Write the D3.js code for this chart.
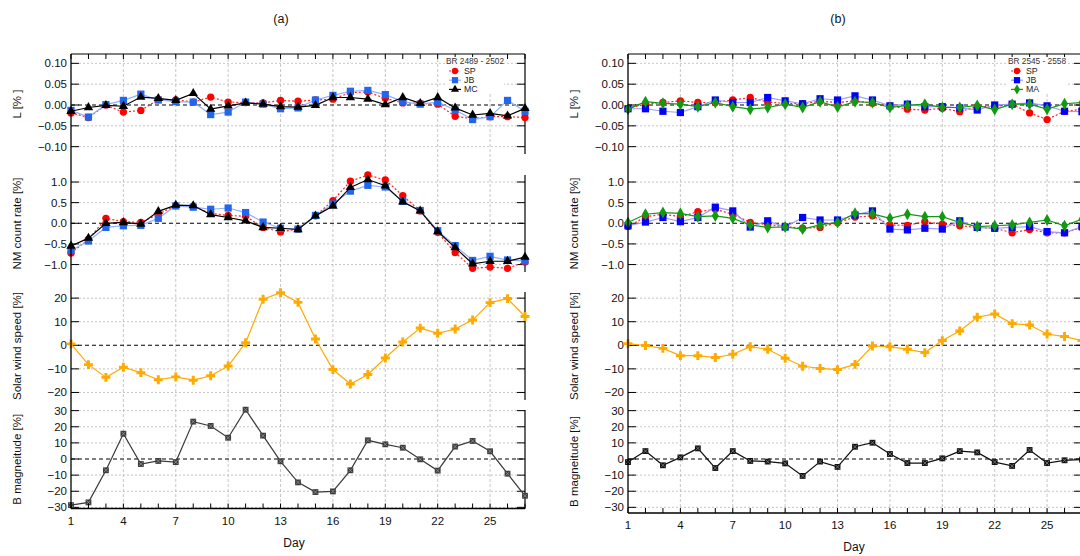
<!DOCTYPE html>
<html>
<head>
<meta charset="utf-8">
<script src="https://cdn.jsdelivr.net/npm/d3@7"></script>
<style>
  body { margin: 0; background: #fff; }
  svg { display: block; font-family: "Liberation Sans", Arial, sans-serif; }
</style>
</head>
<body>
<svg id="chart" width="1080" height="556"></svg>
<script>
// days along the x axis, labelled every third day
const days = [1,2,3,4,5,6,7,8,9,10,11,12,13,14,15,16,17,18,19,20,21,22,23,24,25,26,27];
const dayTicks = [1,4,7,10,13,16,19,22,25];

// y tick values per row
const ticksL = [-0.10, -0.05, 0.00, 0.05, 0.10];
const ticksNM = [-1.0, -0.5, 0.0, 0.5, 1.0];
const ticksSW = [-20, -10, 0, 10, 20];
const ticksB = [-30, -20, -10, 0, 10, 20, 30];

// (a) BR 2489 - 2502
const aL_SP = [-0.019,-0.030,0.000,-0.017,-0.013,0.013,0.012,0.007,0.019,0.007,0.006,0.005,0.011,0.009,0.012,0.014,0.030,0.031,0.016,0.005,0.004,0.002,-0.027,-0.033,-0.028,-0.028,-0.030];
const aL_JB = [-0.013,-0.029,0.001,0.011,0.026,0.012,0.008,0.007,-0.023,-0.017,0.007,0.002,-0.009,-0.007,0.012,0.023,0.033,0.035,0.025,0.008,0.002,0.007,-0.012,-0.035,-0.028,0.011,-0.015];
const aL_MC = [-0.015,-0.006,-0.001,-0.003,0.019,0.016,0.011,0.028,-0.010,-0.002,0.005,0.002,-0.004,-0.005,-0.001,0.018,0.018,0.014,0.001,0.018,0.004,0.018,-0.007,-0.024,-0.020,-0.026,-0.008];
const aNM_SP = [-0.72,-0.39,0.12,0.04,0.02,0.22,0.43,0.41,0.24,0.19,0.17,-0.10,-0.21,-0.14,0.18,0.55,1.02,1.17,1.05,0.67,0.30,-0.22,-0.71,-1.09,-1.06,-1.09,-0.94];
const aNM_JB = [-0.66,-0.43,-0.10,-0.06,-0.05,0.12,0.42,0.39,0.34,0.37,0.26,0.03,-0.12,-0.14,0.19,0.47,0.78,0.92,0.88,0.53,0.31,-0.18,-0.54,-0.90,-0.80,-0.89,-0.91];
const aNM_MC = [-0.55,-0.36,0.00,0.02,-0.02,0.29,0.44,0.43,0.21,0.14,0.06,-0.10,-0.12,-0.15,0.18,0.42,0.87,1.06,0.91,0.52,0.30,-0.20,-0.59,-0.98,-0.92,-0.92,-0.82];
const aSW = [0.6,-8.2,-13.6,-9.3,-11.6,-14.6,-13.4,-14.8,-12.9,-8.8,1.1,19.5,22.3,18.2,2.7,-10.3,-16.4,-12.4,-5.4,1.4,7.3,5.1,6.9,10.7,18.1,19.8,12.2];
const aB = [-28.6,-26.9,-7.0,15.7,-3.1,-1.2,-1.9,23.2,20.5,13.2,30.6,14.5,-1.4,-14.5,-20.5,-20.1,-7.0,11.6,9.1,7.0,-0.2,-7.2,7.7,11.2,4.8,-9.1,-22.8];

// (b) BR 2545 - 2558
const bL_SP = [-0.008,0.002,0.006,0.010,0.006,0.006,0.012,0.018,0.007,0.004,0.003,0.009,0.006,0.010,0.004,-0.002,-0.010,-0.012,-0.008,-0.016,-0.004,-0.004,0.002,-0.019,-0.035,-0.015,-0.010];
const bL_JB = [-0.009,-0.009,-0.015,-0.018,-0.004,0.012,0.006,0.006,0.018,0.010,0.003,0.015,0.012,0.022,0.012,-0.002,0.002,-0.004,-0.004,-0.007,-0.012,0.000,0.002,0.005,-0.002,-0.015,-0.016];
const bL_MA = [-0.010,0.008,0.004,0.002,-0.004,0.006,-0.004,-0.010,-0.006,0.002,-0.006,0.008,-0.005,0.008,0.006,-0.006,-0.001,0.002,-0.006,-0.006,-0.001,-0.011,0.002,0.002,-0.010,0.003,0.006];
const bNM_SP = [-0.08,0.16,0.22,0.16,0.28,0.34,0.22,0.02,-0.03,-0.08,-0.12,-0.10,0.02,0.15,0.18,-0.04,-0.05,0.04,-0.02,-0.06,-0.10,-0.12,-0.23,-0.15,-0.23,-0.23,-0.10];
const bNM_JB = [-0.06,0.03,0.14,0.04,0.14,0.39,0.30,-0.09,0.06,-0.09,0.14,0.08,0.08,0.20,0.30,-0.14,-0.16,-0.12,-0.14,0.06,-0.10,-0.12,-0.10,-0.08,-0.20,-0.23,-0.08];
const bNM_MA = [0.02,0.22,0.26,0.24,0.16,0.18,0.12,-0.04,-0.10,-0.09,-0.14,-0.04,0.02,0.24,0.23,0.12,0.22,0.16,0.16,0.02,-0.08,-0.06,-0.04,0.02,0.08,-0.06,0.10];
const bSW = [0.7,-0.1,-1.3,-4.4,-4.4,-5.2,-3.8,-0.6,-1.7,-5.5,-8.9,-9.8,-10.3,-8.1,-0.3,-0.6,-1.7,-3.1,2.0,6.1,11.9,13.3,9.2,8.6,4.8,3.7,2.0];
const bB = [-1.9,4.9,-3.9,1.0,6.6,-5.6,4.9,-1.2,-1.6,-2.7,-10.5,-1.6,-4.9,7.6,10.1,3.1,-2.5,-2.5,0.4,4.9,4.1,-1.9,-4.3,5.6,-2.5,-0.8,-0.4];

const svg = d3.select("#chart");

// series looks
const styleSP = {name: "SP", color: "#ff0000", line: "#ff2020", dash: "2,2", sym: d3.symbolCircle, size: 42};
const styleMC = {name: "MC", color: "#000000", line: "#000000", dash: null, sym: d3.symbolTriangle, size: 38};
const styleSW = {color: "#ffaa00", line: "#ffaa00", dash: null, sym: d3.symbolCross, size: 44};

function drawColumn(x0, x1, bottom, bDomain, cfg) {
    let g = svg.append("g");
    let x = d3.scaleLinear().domain([1, 27]).range([x0, x1]);

    let panels = [
        {top: 54, bottom: 154, domain: [-0.1176, 0.1224], ticks: ticksL, fmt: d3.format(".2f"), label: "L [% ]",
         series: [[cfg.L[0], styleSP], [cfg.L[1], cfg.jb], [cfg.L[2], cfg.third]]},
        {top: 175, bottom: 272, domain: [-1.18, 1.17], ticks: ticksNM, fmt: d3.format(".1f"), label: "NM count rate [%]",
         series: [[cfg.NM[0], styleSP], [cfg.NM[1], cfg.jb], [cfg.NM[2], cfg.third]]},
        {top: 292, bottom: 400, domain: [-23.2, 22.6], ticks: ticksSW, fmt: d3.format("d"), label: "Solar wind speed [%]",
         series: [[cfg.SW, styleSW]]},
        {top: 410, bottom: bottom, domain: bDomain, ticks: ticksB, fmt: d3.format("d"), label: "B magneitude [%]",
         series: [[cfg.B, cfg.bStyle]]}
    ];

    // vertical grid, continuous through all rows
    g.append("g").selectAll("line").data(dayTicks.slice(1)).enter().append("line")
        .attr("x1", function(d) { return x(d); }).attr("x2", function(d) { return x(d); })
        .attr("y1", 54).attr("y2", bottom)
        .attr("stroke", "#b8b8b8").attr("stroke-width", 0.8).attr("stroke-dasharray", "3,2");

    panels.forEach(function(p) {
        let y = d3.scaleLinear().domain(p.domain).range([p.bottom, p.top]);
        let pg = g.append("g");

        pg.selectAll(".hgrid").data(p.ticks.filter(function(t) { return t !== 0; })).enter().append("line")
            .attr("x1", x0).attr("x2", x1)
            .attr("y1", function(d) { return y(d); }).attr("y2", function(d) { return y(d); })
            .attr("stroke", "#b8b8b8").attr("stroke-width", 0.8).attr("stroke-dasharray", "2,2");

        pg.append("line")
            .attr("x1", x0).attr("x2", x1).attr("y1", y(0)).attr("y2", y(0))
            .attr("stroke", "#000").attr("stroke-width", 1.1).attr("stroke-dasharray", "4,3");

        // tick marks on both sides
        pg.selectAll(".tl").data(p.ticks).enter().append("line")
            .attr("x1", x0).attr("x2", x0 + 8)
            .attr("y1", function(d) { return y(d); }).attr("y2", function(d) { return y(d); })
            .attr("stroke", "#000").attr("stroke-width", 1);
        pg.selectAll(".tr").data(p.ticks).enter().append("line")
            .attr("x1", x1 - 8).attr("x2", x1)
            .attr("y1", function(d) { return y(d); }).attr("y2", function(d) { return y(d); })
            .attr("stroke", "#000").attr("stroke-width", 1);

        pg.selectAll(".tlab").data(p.ticks).enter().append("text")
            .attr("x", x0 - 4).attr("y", function(d) { return y(d) + 4; })
            .attr("text-anchor", "end").attr("font-size", 11.5).attr("fill", "#111")
            .text(function(d) { return p.fmt(d); });

        pg.append("line")
            .attr("x1", x1).attr("x2", x1).attr("y1", p.top).attr("y2", p.bottom)
            .attr("stroke", "#000").attr("stroke-width", 1.2);

        pg.append("text")
            .attr("transform", `translate(${x0 - 50}, ${(p.top + p.bottom) / 2}) rotate(-90)`)
            .attr("text-anchor", "middle").attr("font-size", 11.5).attr("fill", "#111")
            .text(p.label);

        p.series.forEach(function(s) {
            let vals = s[0], st = s[1];
            let line = d3.line()
                .x(function(d, i) { return x(days[i]); })
                .y(function(d) { return y(d); });
            pg.append("path").datum(vals)
                .attr("d", line).attr("fill", "none")
                .attr("stroke", st.line).attr("stroke-width", 1.2)
                .attr("stroke-dasharray", st.dash);
            pg.selectAll(null).data(vals).enter().append("path")
                .attr("transform", function(d, i) { return `translate(${x(days[i])}, ${y(d)})`; })
                .attr("d", d3.symbol().type(st.sym).size(st.size))
                .attr("fill", st.color);
            if (st.xmark) {
                pg.selectAll(null).data(vals).enter().append("path")
                    .attr("transform", function(d, i) { return `translate(${x(days[i])}, ${y(d)})`; })
                    .attr("d", "M-2,-2L2,2M-2,2L2,-2")
                    .attr("stroke", st.xmark).attr("stroke-width", 0.8);
            }
        });
    });

    // frame: left axis, top border, bottom axis
    g.append("line").attr("x1", x0).attr("x2", x0).attr("y1", 54).attr("y2", bottom)
        .attr("stroke", "#000").attr("stroke-width", 1.3);
    g.append("line").attr("x1", x0).attr("x2", x1).attr("y1", 54).attr("y2", 54)
        .attr("stroke", "#000").attr("stroke-width", 1.2);
    g.append("line").attr("x1", x0).attr("x2", x1).attr("y1", bottom).attr("y2", bottom)
        .attr("stroke", "#000").attr("stroke-width", 1.3);

    g.selectAll(".xt").data(days).enter().append("line")
        .attr("x1", function(d) { return x(d); }).attr("x2", function(d) { return x(d); })
        .attr("y1", 54).attr("y2", 59).attr("stroke", "#000");
    g.selectAll(".xb").data(days).enter().append("line")
        .attr("x1", function(d) { return x(d); }).attr("x2", function(d) { return x(d); })
        .attr("y1", bottom - 5).attr("y2", bottom).attr("stroke", "#000");

    g.selectAll(".xlab").data(dayTicks).enter().append("text")
        .attr("x", function(d) { return x(d); }).attr("y", bottom + 16)
        .attr("text-anchor", "middle").attr("font-size", 11.5).attr("fill", "#111")
        .text(function(d) { return d; });

    g.append("text").attr("x", cfg.dayX).attr("y", bottom + 38)
        .attr("text-anchor", "middle").attr("font-size", 12).attr("fill", "#111").text("Day");
    g.append("text").attr("x", cfg.titleX).attr("y", 23)
        .attr("text-anchor", "middle").attr("font-size", 12.5).attr("fill", "#111").text(cfg.title);

    // legend
    let lx = cfg.legendX;
    g.append("rect").attr("x", lx - 3).attr("y", 57).attr("width", 58).attr("height", 37).attr("fill", "#fff");
    g.append("text").attr("x", lx + 26).attr("y", 63.5).attr("text-anchor", "middle")
        .attr("font-size", 8.3).attr("fill", "#333").text(cfg.br);
    [styleSP, cfg.jb, cfg.third].forEach(function(st, i) {
        let ly = 71 + i * 9.2;
        g.append("line").attr("x1", lx).attr("x2", lx + 12).attr("y1", ly).attr("y2", ly)
            .attr("stroke", st.line).attr("stroke-width", 1.2).attr("stroke-dasharray", st.dash);
        g.append("path").attr("transform", `translate(${lx + 6}, ${ly})`)
            .attr("d", d3.symbol().type(st.sym).size(st.size * 0.75)).attr("fill", st.color);
        g.append("text").attr("x", lx + 15).attr("y", ly + 3)
            .attr("font-size", 8.8).attr("fill", "#222").text(st.name);
    });
}

drawColumn(71, 525, 508.5, [-30.7, 30.4], {
    L: [aL_SP, aL_JB, aL_MC], NM: [aNM_SP, aNM_JB, aNM_MC], SW: aSW, B: aB,
    jb: {name: "JB", color: "#2266ee", line: "#8fb0ff", dash: null, sym: d3.symbolSquare, size: 52},
    third: styleMC,
    bStyle: {color: "#3a3a3a", line: "#3a3a3a", dash: null, sym: d3.symbolSquare, size: 34, xmark: "#999"},
    title: "(a)", titleX: 281, dayX: 294, legendX: 449, br: "BR 2489 - 2502"
});

drawColumn(628, 1082, 513, [-33.5, 30.4], {
    L: [bL_SP, bL_JB, bL_MA], NM: [bNM_SP, bNM_JB, bNM_MA], SW: bSW, B: bB,
    jb: {name: "JB", color: "#0000ff", line: "#9a9aff", dash: null, sym: d3.symbolSquare, size: 52},
    third: {name: "MA", color: "#119911", line: "#119911", dash: null, sym: d3.symbolDiamond, size: 42},
    bStyle: {color: "#111", line: "#111", dash: null, sym: d3.symbolSquare, size: 34, xmark: "#888"},
    title: "(b)", titleX: 838, dayX: 854, legendX: 1011, br: "BR 2545 - 2558"
});
</script>
</body>
</html>
